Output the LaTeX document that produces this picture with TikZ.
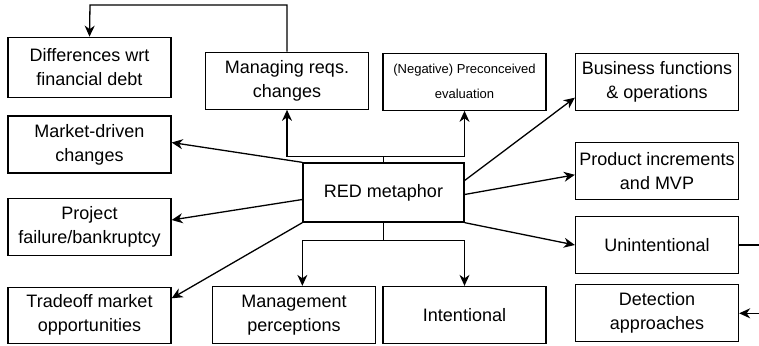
\documentclass[tikz,border=0pt]{standalone}
\usepackage{fontspec}
\setmainfont{Liberation Sans}
\usetikzlibrary{arrows.meta}

\begin{document}
\begin{tikzpicture}[
    x=1pt, y=-1pt,
    box/.style={
        rectangle,
        draw,
        line width=1.3pt,
        minimum width=163pt,
        minimum height=57pt,
        inner sep=2pt,
        align=center,
        font=\fontsize{18}{24}\selectfont
    },
    smallbox/.style={
        box,
        font=\fontsize{13}{25}\selectfont
    },
    link/.style={
        -{Stealth[length=11pt, width=10pt, inset=3.5pt]},
        line width=1.3pt
    },
    plain/.style={
        line width=1.3pt
    }
]
\useasboundingbox (0,0) rectangle (759,345);

% Centre
\node[box, minimum width=161pt, minimum height=59pt] (red) at (383.5,192.5) {RED metaphor};

% Left column
\node[box, minimum height=60pt] (diff) at (89.5,67.3) {Differences wrt\\financial debt};
\node[box] (market) at (89.5,144.5) {Market-driven\\changes};
\node[box] (project) at (89.5,227) {Project\\failure/bankruptcy};
\node[box, minimum height=56pt] (tradeoff) at (89.5,315.3) {Tradeoff market\\opportunities};

% Top row
\node[box] (managing) at (287,80.7) {Managing reqs.\\changes};
\node[smallbox] (negative) at (464.5,81.7) {(Negative) Preconceived\\evaluation};

% Bottom row
\node[box] (mgmt) at (294,315) {Management\\perceptions};
\node[box] (intentional) at (464.5,315) {Intentional};

% Right column
\node[box] (business) at (657,81.7) {Business functions\\\& operations};
\node[box] (product) at (657,170.8) {Product increments\\and MVP};
\node[box] (unintentional) at (657,245) {Unintentional};
\node[box] (detection) at (657,313.3) {Detection\\approaches};

% Off-picture ends
\coordinate (top) at (90,5);
\coordinate (outright) at (759,245);
\coordinate (inright) at (759,313.3);

% Connectors
\draw[link] (managing.north) |- (top) -- (diff.north);

\draw[link] (red.north) -- ++(0,-6) -| (managing.south);
\draw[link] (red.north) -- ++(0,-6) -| (negative.south);

\draw[link] (red.south) -- ++(0,18) -| (red.west |- mgmt.north);
\draw[link] (red.south) -- ++(0,18) -| (intentional.north);

\draw[link] (red.north west) -- ([yshift=2pt]market.east);
\draw[link] ([yshift=-7pt]red.west) -- ([yshift=7pt]project.east);
\draw[link] (red.south west) -- ([yshift=17pt]tradeoff.east);

\draw[link] ([yshift=12pt]red.east) -- ([yshift=-16pt]business.west);
\draw[link] ([yshift=-2pt]red.east) -- ([yshift=-4pt]product.west);
\draw[link] (red.south east) -- (unintentional.west);

\draw[plain] (unintentional.east) -- (outright);
\draw[link] (inright) -- (detection.east);

\end{tikzpicture}
\end{document}
